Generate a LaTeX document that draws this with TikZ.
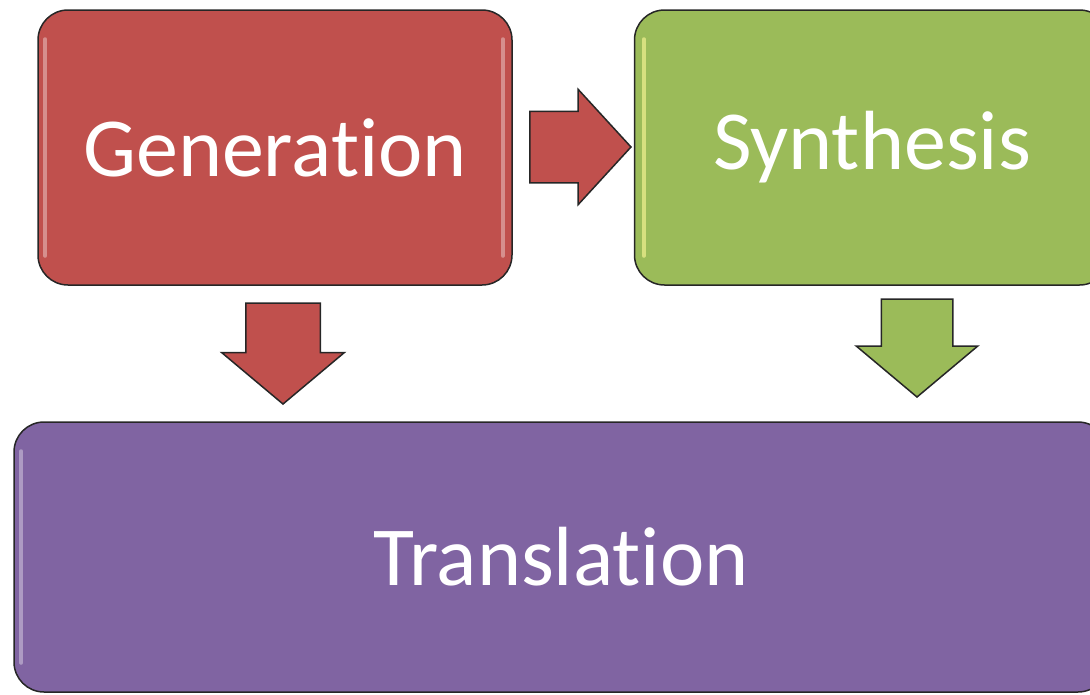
\documentclass[tikz,border=0pt]{standalone}
\usepackage{fontspec}
\setmainfont{Carlito}[Ligatures=NoCommon]
\usetikzlibrary{shapes.arrows}
\definecolor{genred}{HTML}{C0504D}
\definecolor{synthgreen}{HTML}{9BBB59}
\definecolor{transpurple}{HTML}{8064A2}
\tikzset{
block/.style={draw=black!85, line width=1.5pt, rounded corners=30pt, text=white, inner sep=0pt, font=\fontsize{84}{100}\selectfont}, % the three stages
blockarrow/.style={single arrow, draw=black!85, line width=1.5pt, inner xsep=0pt, inner ysep=35pt, minimum height=101pt, single arrow head extend=23pt}, % fat arrows between stages
shine/.style={line width=4pt, opacity=.6, line cap=round}, % glossy inner edge
}
\begin{document}
\begin{tikzpicture}[x=1pt, y=-1pt]
    \useasboundingbox (0,0) rectangle (1090,694);
    \node[block, fill=genred, minimum width=474pt, minimum height=275pt] (gen) at (275,147.5) {Generation};
    \node[block, fill=synthgreen, minimum width=475pt, minimum height=275pt] (syn) at (872,147.5) {Synthesis};
    \node[block, fill=transpurple, minimum width=1094pt, minimum height=270pt] (trans) at (561,557) {Translation};
    % shine on the boxes
    \draw[shine, white!60!genred] ([shift={(8,30)}]gen.north west) -- ([shift={(8,-30)}]gen.south west);
    \draw[shine, white!60!genred] ([shift={(-10,30)}]gen.north east) -- ([shift={(-10,-30)}]gen.south east);
    \draw[shine, yellow!40!white] ([shift={(10,30)}]syn.north west) -- ([shift={(10,-30)}]syn.south west);
    \draw[shine, white!60!transpurple] ([shift={(8,30)}]trans.north west) -- ([shift={(8,-30)}]trans.south west);
    % arrows
    \node[blockarrow, fill=genred, single arrow head extend=22pt, single arrow tip angle=95, anchor=tip] (g2s) at (632,147) {};
    \node[blockarrow, fill=genred, inner ysep=36.5pt, single arrow head extend=24pt, single arrow tip angle=100, rotate=-90, anchor=tip] (g2t) at (283,405) {};
    \node[blockarrow, fill=synthgreen, single arrow head extend=25pt, single arrow tip angle=100, rotate=-90, anchor=tip, minimum height=98pt] (s2t) at (917,398) {};
\end{tikzpicture}
\end{document}
